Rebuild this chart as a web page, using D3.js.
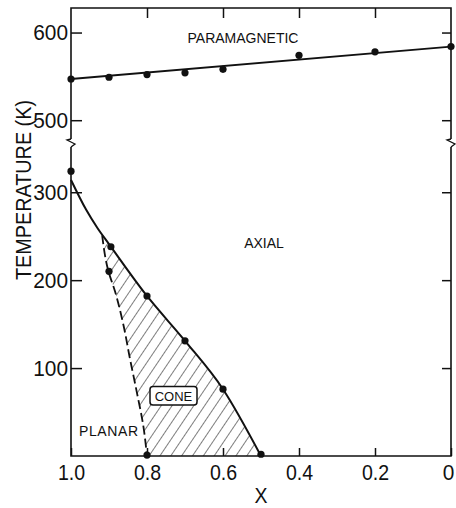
<!DOCTYPE html>
<html>
<head>
<meta charset="utf-8">
<script src="https://cdn.jsdelivr.net/npm/d3@7"></script>
<style>
  body { margin: 0; background: #fff; }
  svg { display: block; }
  .tick text { font-family: "Liberation Sans", Arial, sans-serif; font-size: 22px; fill: #111; }
  .lbl { font-family: "Liberation Sans", Arial, sans-serif; font-size: 14px; fill: #111; }
</style>
</head>
<body>
<div id="chart"></div>
<script>
// Curie line (paramagnetic boundary)
const paraX = [1.0, 0.9, 0.8, 0.7, 0.6, 0.4, 0.2, 0.0]
const paraT = [547, 549, 552, 554, 558, 574, 578, 584]
const paraLineX = [1.0, 0.0]
const paraLineT = [547, 584]

// low temperature measured points
const lowX = [1.0, 0.895, 0.9, 0.8, 0.7, 0.6, 0.5, 0.8]
const lowT = [324, 238, 210, 182, 131, 76, 2, 1]

// axial / cone boundary (solid)
const axialX = [1.0, 0.96, 0.93, 0.9, 0.8, 0.7, 0.6, 0.5]
const axialT = [314, 280, 259, 241, 182, 131, 76, 0]

// planar / cone boundary (dashed)
const planarX = [0.918, 0.902, 0.884, 0.862, 0.845, 0.827, 0.81, 0.8]
const planarT = [251, 211, 187, 149, 111, 73, 35, 0]

const xTicks = [1.0, 0.8, 0.6, 0.4, 0.2, 0]
const yTicks = [100, 200, 300, 500, 600]

const width = 456
const height = 508
const plotL = 71, plotR = 451, plotT = 8, plotB = 456

const x = d3.scaleLinear().domain([1, 0]).range([plotL, plotR])
// broken axis: 0..356 below the break, 474..628 above it
const y = d3.scaleLinear().domain([0, 356, 474, 628]).range([plotB, 143, 143, plotT])
const breakY = y(356)

// narrow look for the tick numbers
const labelLen = s => s.replace(/\./g, "").length * 11.6 + (s.includes(".") ? 4 : 0)

const svg = d3.select("#chart")
  .append("svg")
  .attr("width", width)
  .attr("height", height)

const defs = svg.append("defs")
defs.append("pattern")
  .attr("id", "hatch")
  .attr("patternUnits", "userSpaceOnUse")
  .attr("width", 9)
  .attr("height", 10)
  .attr("patternTransform", "rotate(34)")
  .append("line")
  .attr("x1", 0).attr("y1", 0)
  .attr("x2", 0).attr("y2", 10)
  .attr("stroke", "#111")
  .attr("stroke-width", 1.1)

// hatched cone region
const planarPts = planarX.map((d, i) => [d, planarT[i]])
const axialPts = axialX.map((d, i) => [d, axialT[i]])
const conePoly = planarPts.concat(axialPts.filter(p => p[0] < 0.918).reverse())
const line = d3.line().x(d => x(d[0])).y(d => y(d[1]))

svg.append("path")
  .attr("d", line(conePoly) + "Z")
  .attr("fill", "url(#hatch)")

// axes
svg.append("g")
  .attr("transform", `translate(0,${plotB})`)
  .call(d3.axisBottom(x).tickValues(xTicks).tickSize(-8).tickPadding(8)
    .tickFormat(d => d === 0 ? "0" : d.toFixed(1)))
  .call(g => g.select(".domain").remove())
  .call(g => g.selectAll(".tick text")
    .attr("textLength", function () { return labelLen(this.textContent) })
    .attr("lengthAdjust", "spacingAndGlyphs")
    .attr("dx", d => d === 0 ? -3 : 0))

svg.append("g")
  .attr("transform", `translate(0,${plotT})`)
  .call(d3.axisTop(x).tickValues(xTicks.slice(1, 5)).tickSize(-10).tickFormat(""))
  .call(g => g.select(".domain").remove())

svg.append("g")
  .attr("transform", `translate(${plotL},0)`)
  .call(d3.axisLeft(y).tickValues(yTicks).tickSize(-11).tickPadding(3))
  .call(g => g.select(".domain").remove())
  .call(g => g.selectAll(".tick text")
    .attr("textLength", function () { return labelLen(this.textContent) })
    .attr("lengthAdjust", "spacingAndGlyphs"))

svg.append("g")
  .attr("transform", `translate(${plotR},0)`)
  .call(d3.axisRight(y).tickValues(yTicks).tickSize(-9).tickFormat(""))
  .call(g => g.select(".domain").remove())

svg.selectAll(".tick line").attr("stroke", "#111").attr("stroke-width", 1.5)

// frame with breaks
const frame = svg.append("g").attr("fill", "none").attr("stroke", "#111").attr("stroke-width", 1.6)
frame.append("path").attr("d", `M${plotL},${breakY - 4}V${plotT}H${plotR}V${breakY - 4}`)
frame.append("path").attr("d", `M${plotL},${breakY + 4}V${plotB}H${plotR}V${breakY + 4}`)
;[plotL, plotR].forEach(ax => {
  frame.append("path")
    .attr("stroke-width", 1.3)
    .attr("d", `M${ax},${breakY - 4}L${ax - 4},${breakY - 3}L${ax + 4},${breakY + 1}L${ax},${breakY + 4}`)
})

// boundary lines
svg.append("path")
  .attr("d", line(paraLineX.map((d, i) => [d, paraLineT[i]])))
  .attr("fill", "none").attr("stroke", "#111").attr("stroke-width", 1.8)

svg.append("path")
  .attr("d", d3.line().x(d => x(d[0])).y(d => y(d[1])).curve(d3.curveMonotoneX)(axialPts))
  .attr("fill", "none").attr("stroke", "#111").attr("stroke-width", 2)

svg.append("path")
  .attr("d", d3.line().x(d => x(d[0])).y(d => y(d[1])).curve(d3.curveMonotoneY)(planarPts))
  .attr("fill", "none").attr("stroke", "#111").attr("stroke-width", 1.8)
  .attr("stroke-dasharray", "9,4")

// data points
svg.append("g").selectAll("circle")
  .data(paraX.map((d, i) => [d, paraT[i]]).concat(lowX.map((d, i) => [d, lowT[i]])))
  .enter()
  .append("circle")
  .attr("cx", d => x(d[0]))
  .attr("cy", d => y(d[1]))
  .attr("r", 3.6)
  .attr("fill", "#111")

// region labels
svg.append("text").attr("class", "lbl").attr("x", 243).attr("y", 43).attr("text-anchor", "middle").text("PARAMAGNETIC")
svg.append("text").attr("class", "lbl").attr("x", 264).attr("y", 248).attr("text-anchor", "middle").text("AXIAL")
svg.append("text").attr("class", "lbl").attr("x", 79).attr("y", 436).attr("letter-spacing", 0.6).text("PLANAR")

svg.append("rect")
  .attr("x", 150).attr("y", 386.5).attr("width", 47).attr("height", 18.5).attr("rx", 3)
  .attr("fill", "#fff").attr("stroke", "#111").attr("stroke-width", 1.5)
svg.append("text").attr("class", "lbl").attr("x", 173.5).attr("y", 401).attr("text-anchor", "middle")
  .style("font-size", "13px").text("CONE")

// axis titles
svg.append("text")
  .attr("transform", "translate(31,190) rotate(-90)")
  .attr("text-anchor", "middle")
  .attr("textLength", 180)
  .attr("lengthAdjust", "spacingAndGlyphs")
  .style("font-family", "'Liberation Sans', Arial, sans-serif")
  .style("font-size", "22px")
  .attr("fill", "#111")
  .text("TEMPERATURE (K)")

svg.append("text")
  .attr("x", 261).attr("y", 503)
  .attr("text-anchor", "middle")
  .attr("textLength", 13)
  .attr("lengthAdjust", "spacingAndGlyphs")
  .style("font-family", "'Liberation Sans', Arial, sans-serif")
  .style("font-size", "22px")
  .attr("fill", "#111")
  .text("X")
</script>
</body>
</html>
